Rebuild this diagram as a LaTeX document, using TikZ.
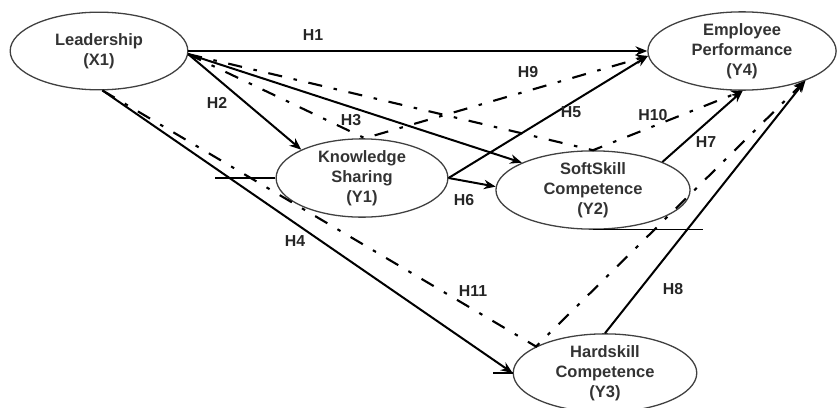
\documentclass[tikz,border=0pt]{standalone}
\usepackage{fontspec}
\setmainfont{Liberation Sans}
\usetikzlibrary{shapes.geometric,arrows.meta}
\tikzset{
  latent/.style={ellipse,draw=black!75,line width=1.1pt,inner sep=0pt,align=center,text=black!80,font=\bfseries\fontsize{14}{17}\selectfont},
  direct/.style={line width=1.7pt,-{Stealth[length=10pt,width=8pt]}},
  indirect/.style={line width=1.8pt,dash pattern=on 12pt off 10pt on 3pt off 10pt,-{Stealth[length=10pt,width=8pt]}},
  hlabel/.style={text=black!85,font=\bfseries\fontsize{13.5}{16}\selectfont}
}
\begin{document}
\begin{tikzpicture}[x=0.85pt,y=-0.85pt]
\useasboundingbox (0,0) rectangle (838,407);
\node[latent,minimum width=151pt,minimum height=66pt](lead) at (99,51){Leadership\\(X1)};
\node[latent,minimum width=160pt,minimum height=64pt](ep) at (742,51){Employee\\Performance\\(Y4)};
\node[latent,minimum width=146pt,minimum height=58pt](ks) at (362,178){Knowledge\\Sharing\\(Y1)};
\node[latent,minimum width=165pt,minimum height=65pt](ssc) at (593,190){SoftSkill\\Competence\\(Y2)};
\node[latent,minimum width=156pt,minimum height=65pt](hsc) at (605,373){Hardskill\\Competence\\(Y3)};
\draw[line width=1pt](ks.west)--++(-60,0);
\draw[line width=1pt](ssc.south)--++(110,0);
\draw[line width=1pt](hsc.west)--++(-20,0);
\draw[direct](lead.east)--(ep.west);
\draw[direct](lead.-2)--(ks.155);
\draw[direct](lead.-2)--(ssc.159);
\draw[direct](lead.-85)--(hsc.west);
\draw[direct](ks.east)--(ep.183);
\draw[direct](ks.east)--(ssc.178);
\draw[direct](ssc.22)--(ep.-89);
\draw[direct](hsc.north)--(ep.-25);
\draw[indirect](lead.-2)--(ks.86)--(ep.183);
\draw[indirect](lead.-2)--(ssc.north)--(ep.-89);
\draw[indirect](lead.-85)--(hsc.159)--(ep.-25);
\node[hlabel](h1) at (313,35){H1};
\node[hlabel](h2) at (217,103){H2};
\node[hlabel](h3) at (351,120){H3};
\node[hlabel](h4) at (295,241){H4};
\node[hlabel](h5) at (571,112){H5};
\node[hlabel](h6) at (464,200){H6};
\node[hlabel](h7) at (706,142){H7};
\node[hlabel](h8) at (673,289){H8};
\node[hlabel](h9) at (528,72){H9};
\node[hlabel](h10) at (653,115){H10};
\node[hlabel](h11) at (473,291){H11};
\end{tikzpicture}
\end{document}
